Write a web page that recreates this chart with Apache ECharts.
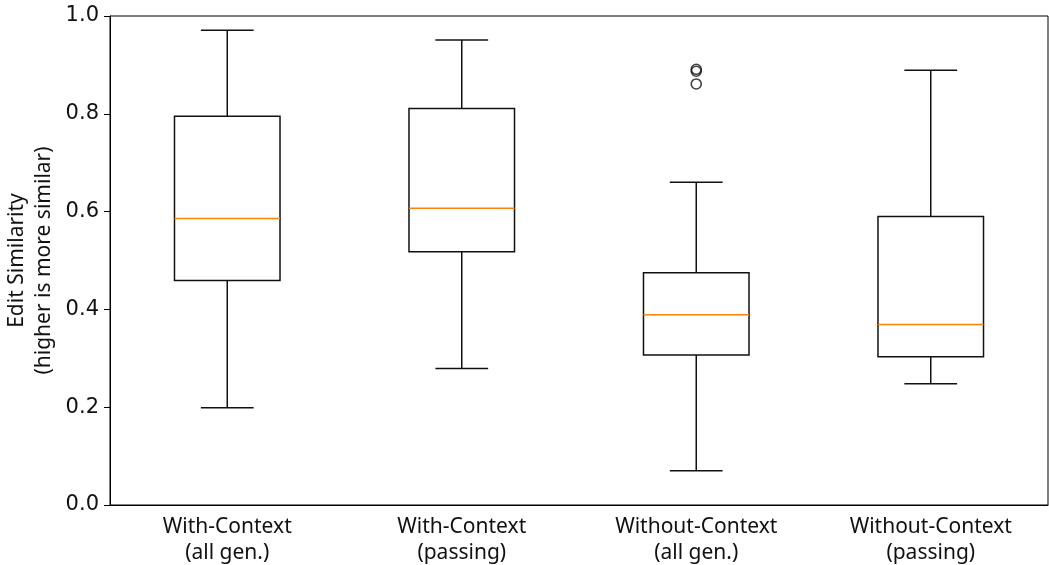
<!DOCTYPE html>
<html>
<head>
<meta charset="utf-8">
<script src="https://cdn.jsdelivr.net/npm/echarts@6/dist/echarts.min.js"></script>
<style>html,body{margin:0;padding:0;background:#fff;}#c{width:1049px;height:565px;}</style>
</head>
<body>
<div id="c"></div>
<script>
const categories = ['With-Context\n(all gen.)', 'With-Context\n(passing)', 'Without-Context\n(all gen.)', 'Without-Context\n(passing)'];
const whiskerLow = [0.199, 0.279, 0.070, 0.248];
const q1 = [0.459, 0.518, 0.307, 0.303];
const median = [0.586, 0.607, 0.389, 0.369];
const q3 = [0.795, 0.811, 0.475, 0.590];
const whiskerHigh = [0.971, 0.951, 0.660, 0.889];
const outliers = [[2, 0.891], [2, 0.887], [2, 0.861]];
const yTicks = [0, 0.2, 0.4, 0.6, 0.8, 1.0];

const boxData = categories.map((c, i) => [i, whiskerLow[i], q1[i], median[i], q3[i], whiskerHigh[i]]);

const chart = echarts.init(document.getElementById('c'), null, {renderer: 'canvas'});
const font = 'DejaVu Sans';
const font2 = 'Noto Sans';
chart.setOption({
  animation: false,
  grid: {left: 110, right: 1, top: 16, bottom: 60, show: true, borderColor: '#000', borderWidth: 1, backgroundColor: 'transparent', outerBoundsMode: 'none', containLabel: false},
  xAxis: {
    type: 'category', data: categories, boundaryGap: true,
    axisLine: {lineStyle: {color: '#000'}},
    axisTick: {alignWithLabel: true, length: 5, lineStyle: {color: '#000'}},
    axisLabel: {color: '#111', fontFamily: font2, fontSize: 21, lineHeight: 26, margin: 9},
    splitLine: {show: false}
  },
  yAxis: {
    type: 'value', min: 0, max: 1, interval: 0.2,
    name: 'Edit Similarity\n(higher is more similar)', nameLocation: 'middle', nameGap: 52, nameMoveOverlap: false,
    nameTextStyle: {color: '#111', fontFamily: font2, fontSize: 21, lineHeight: 27},
    axisLine: {show: true, lineStyle: {color: '#000'}},
    axisTick: {show: true, length: 6, lineStyle: {color: '#000'}},
    axisLabel: {color: '#111', fontFamily: font, fontSize: 21, margin: 11, formatter: v => v.toFixed(1)},
    splitLine: {show: false}
  },
  series: [
    {
      type: 'custom',
      data: boxData,
      renderItem: function (params, api) {
        const i = api.value(0);
        const band = api.size([1, 0])[0];
        const hw = band * 0.45 / 2;
        const cw = hw / 2;
        const cx = api.coord([i, 0])[0];
        const y = k => api.coord([i, api.value(k)])[1];
        const yl = y(1), yq1 = y(2), ym = y(3), yq3 = y(4), yh = y(5);
        const st = {stroke: '#111', lineWidth: 1.5, fill: null};
        return {
          type: 'group',
          children: [
            {type: 'line', shape: {x1: cx, y1: yq1, x2: cx, y2: yl}, style: st},
            {type: 'line', shape: {x1: cx, y1: yq3, x2: cx, y2: yh}, style: st},
            {type: 'line', shape: {x1: cx - cw, y1: yl, x2: cx + cw, y2: yl}, style: st},
            {type: 'line', shape: {x1: cx - cw, y1: yh, x2: cx + cw, y2: yh}, style: st},
            {type: 'rect', shape: {x: cx - hw, y: yq3, width: 2 * hw, height: yq1 - yq3}, style: {stroke: '#111', lineWidth: 1.5, fill: 'none'}},
            {type: 'line', shape: {x1: cx - hw, y1: ym, x2: cx + hw, y2: ym}, style: {stroke: '#ff7f0e', lineWidth: 1.5}}
          ]
        };
      }
    },
    {
      type: 'scatter',
      data: outliers,
      symbol: 'circle',
      symbolSize: 10,
      itemStyle: {color: 'rgba(0,0,0,0)', borderColor: '#111', borderWidth: 1.6}
    }
  ]
});
</script>
</body>
</html>
